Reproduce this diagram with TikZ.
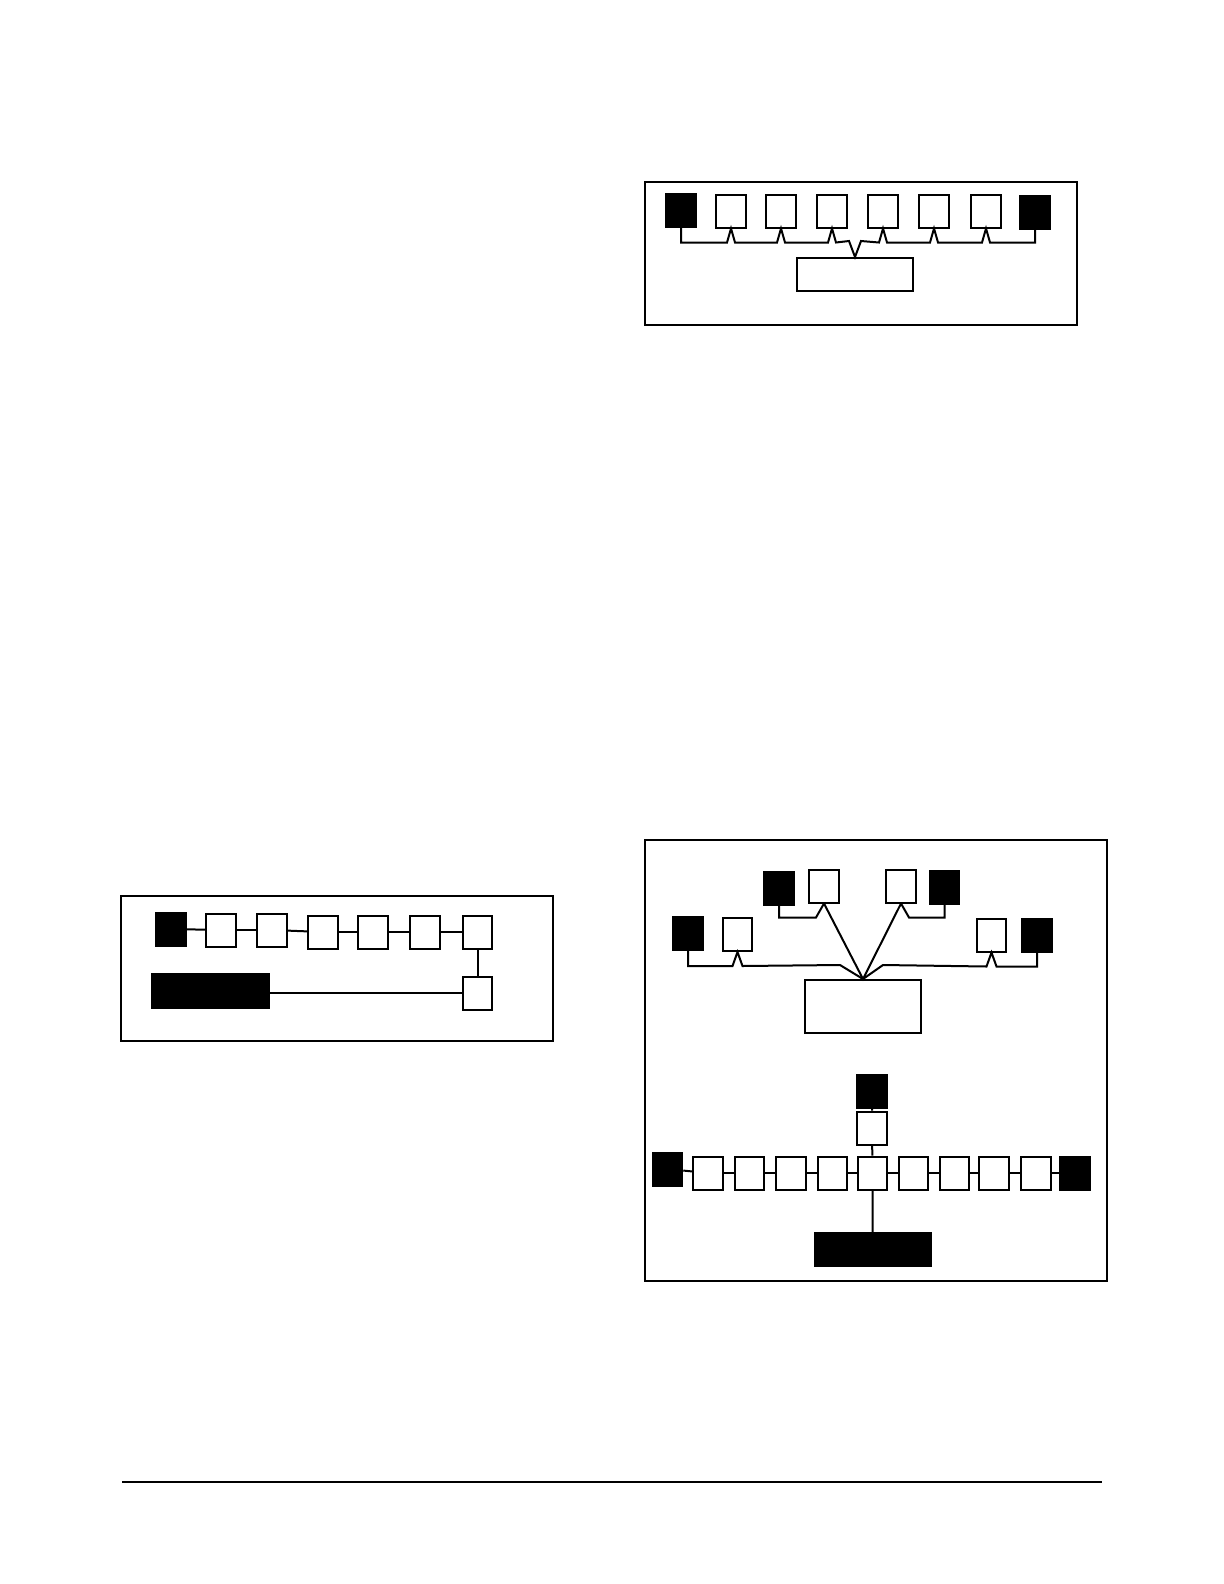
\documentclass[tikz,border=0pt]{standalone}
\usetikzlibrary{calc}
\begin{document}
\begin{tikzpicture}[x=0.5bp, y=-0.5bp,
  unit/.style={draw, line width=1bp, inner sep=0pt, minimum width=14.75bp, minimum height=16.5bp},
  term/.style={unit, fill=black},
  ctrl/.style={draw, line width=1bp, inner sep=0pt, minimum width=58bp, minimum height=16.5bp},
  frame/.style={line width=1.4bp},
  wire/.style={line width=1bp, line join=miter}]
  \useasboundingbox (0,0) rectangle (1224,1584);

  % bus with taps
  \draw[frame] (645,182) rectangle (1077,325);
  \node[term] (t1) at (681,210) {};
  \foreach \n/\x in {2/731,3/781,4/832,5/883,6/934,7/986}
    \node[unit] (t\n) at (\x,211) {};
  \node[term] (t8) at (1035,212) {};
  \node[ctrl] (tc) at (855,274.5) {};
  \draw[wire] (t1.south) |- ($(t2.south)+(-4,14)$)
    \foreach \n in {2,3,4} { -- ($(t\n.south)+(-4,14)$) -- (t\n.south) -- ($(t\n.south)+(4,14)$) }
    -- ($(tc.north)+(-6,-16)$) -- (tc.north) -- ($(tc.north)+(6,-16)$)
    \foreach \n in {5,6,7} { -- ($(t\n.south)+(-4,14)$) -- (t\n.south) -- ($(t\n.south)+(4,14)$) }
    -| (t8.south);

  % chain
  \draw[frame] (121,896) rectangle (553,1041);
  \node[term] (s0) at (171,929) {};
  \foreach \n/\x/\y in {1/221/930, 2/272/930, 3/323/932, 4/373/932, 5/425/932, 6/477.5/932}
    \node[unit] (s\n) at (\x,\y) {};
  \node[unit] (s7) at (477.5,993) {};
  \node[ctrl, fill=black, minimum width=58.5bp, minimum height=17bp] (sh) at (210.5,991) {};
  \foreach \a/\b in {0/1,1/2,2/3,3/4,4/5,5/6}
    \draw[wire] (s\a) -- (s\b);
  \draw[wire] (s6) -- (s7);
  \draw[wire] (sh.east |- s7) -- (s7);

  % star
  \draw[frame] (645,840) rectangle (1107,1281);
  \node[term] (ka) at (779,888) {};
  \node[unit] (wa) at (824,886) {};
  \node[unit] (wb) at (901,886) {};
  \node[term] (kb) at (944.5,887) {};
  \node[term] (kc) at (688,933) {};
  \node[unit] (wc) at (737.5,934.5) {};
  \node[unit] (wd) at (991.5,935) {};
  \node[term] (kd) at (1037,935) {};
  \node[ctrl, minimum height=26.5bp] (hc) at (863,1006.5) {};
  \draw[wire] (wa.south) -- (hc.north) -- (wb.south);
  \draw[wire] (ka.south) |- ($(wa.south)+(-8,14)$) -- (wa.south);
  \draw[wire] (wb.south) -- ($(wb.south)+(8,14)$) -| (kb.south);
  \draw[wire] (kc.south) |- ($(wc.south)+(-5,14)$) -- (wc.south) -- ($(wc.south)+(5,14)$)
    -- ($(hc.north)+(-23,-14)$) -- (hc.north) -- ($(hc.north)+(20,-14)$)
    -- ($(wd.south)+(-5,14)$) -- (wd.south) -- ($(wd.south)+(5,14)$) -| (kd.south);

  % tee
  \node[term] (kt) at (872,1091) {};
  \node[unit] (wt) at (872,1128) {};
  \node[term] (kl) at (667.5,1169) {};
  \foreach \n/\x in {1/708,2/749.5,3/791,4/832.5,5/872.5,6/913.5,7/954.5,8/994,9/1036}
    \node[unit] (r\n) at (\x,1173) {};
  \node[term] (kr) at (1075,1173) {};
  \node[ctrl, fill=black] (hb) at (872.5,1249.5) {};
  \draw[wire] (kl) -- (r1);
  \foreach \n [count=\m from 2] in {1,...,8}
    \draw[wire] (r\n) -- (r\m);
  \draw[wire] (r9) -- (kr);
  \draw[wire] (kt) -- (wt) -- (r5) -- (hb);

  \draw[line width=1bp] (122,1482) -- (1102,1482);
\end{tikzpicture}
\end{document}
